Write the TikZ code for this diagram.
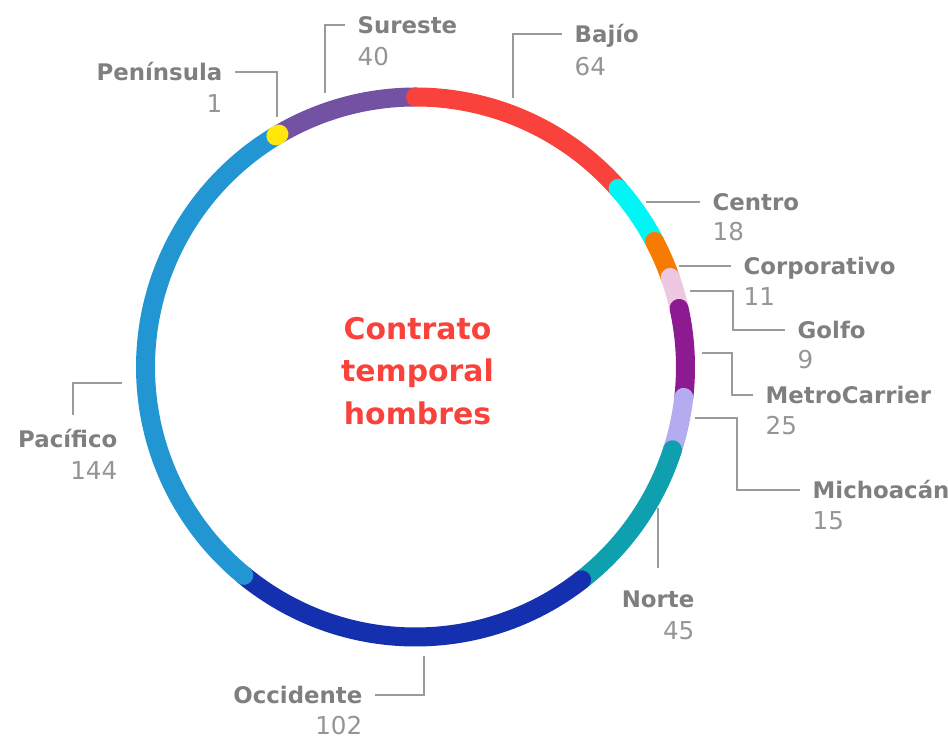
\documentclass[tikz,border=0pt]{standalone}
\usepackage{fontspec}
\setmainfont{DejaVu Sans}
\definecolor{sureste}{HTML}{7352A3}
\definecolor{bajio}{HTML}{F8423B}
\definecolor{centro}{HTML}{00F5F5}
\definecolor{corporativo}{HTML}{F57C00}
\definecolor{golfo}{HTML}{EEC8E0}
\definecolor{metro}{HTML}{8E1A91}
\definecolor{michoacan}{HTML}{B3ACF0}
\definecolor{norte}{HTML}{0EA0AE}
\definecolor{occidente}{HTML}{1430AE}
\definecolor{pacifico}{HTML}{2196D3}
\definecolor{peninsula}{HTML}{FFE80A}
\definecolor{namegray}{HTML}{7F7F7F}
\definecolor{numgray}{HTML}{959595}
\definecolor{leadgray}{HTML}{9A9A9A}
\newcommand{\ringrad}{2.7cm}
\begin{document}
\begin{tikzpicture}[
  seg/.style={line width=0.19cm,line cap=round},
  lead/.style={draw=leadgray,line width=0.45pt},
  region/.style={font=\fontsize{6.5}{8}\selectfont\bfseries,text=namegray,
    inner xsep=0.12cm,inner ysep=0pt,text height=0.165cm,text depth=0pt},
  total/.style={font=\fontsize{7}{8}\selectfont,text=numgray,
    inner sep=0pt,text height=0.18cm,text depth=0pt},
  title/.style={font=\fontsize{8.5}{12.1}\selectfont\bfseries,text=bajio,align=center}
]
\useasboundingbox (0,0) rectangle (9.48,7.42);
\coordinate (C) at (4.155,3.75);

% ring, clockwise from the top
\draw[seg,sureste] (C) ++(-239.62:\ringrad) arc[start angle=-239.62,end angle=-270,radius=\ringrad];
\draw[seg,bajio] (C) ++(90:\ringrad) arc[start angle=90,end angle=41.39,radius=\ringrad];
\draw[seg,centro] (C) ++(41.39:\ringrad) arc[start angle=41.39,end angle=27.72,radius=\ringrad];
\draw[seg,corporativo] (C) ++(27.72:\ringrad) arc[start angle=27.72,end angle=19.37,radius=\ringrad];
\draw[seg,golfo] (C) ++(19.37:\ringrad) arc[start angle=19.37,end angle=12.53,radius=\ringrad];
\draw[seg,metro] (C) ++(12.53:\ringrad) arc[start angle=12.53,end angle=-6.46,radius=\ringrad];
\draw[seg,michoacan] (C) ++(-6.46:\ringrad) arc[start angle=-6.46,end angle=-17.85,radius=\ringrad];
\draw[seg,norte] (C) ++(-17.85:\ringrad) arc[start angle=-17.85,end angle=-52.03,radius=\ringrad];
\draw[seg,occidente] (C) ++(-52.03:\ringrad) arc[start angle=-52.03,end angle=-129.49,radius=\ringrad];
\draw[seg,pacifico] (C) ++(-129.49:\ringrad) arc[start angle=-129.49,end angle=-238.86,radius=\ringrad];
\draw[seg,peninsula] (C) ++(-238.86:\ringrad) arc[start angle=-238.86,end angle=-239.62,radius=\ringrad];

\node[title] (title) at (4.175,3.71) {Contrato\\temporal\\hombres};

% labels
\node[region,anchor=west] (sur) at (3.45,7.17) {Sureste};
\node[total,anchor=west] (sur-n) at (3.57,6.85) {40};
\node[region,anchor=west] (baj) at (5.62,7.08) {Bajío};
\node[total,anchor=west] (baj-n) at (5.74,6.75) {64};
\node[region,anchor=west] (cen) at (7.00,5.40) {Centro};
\node[total,anchor=west] (cen-n) at (7.12,5.10) {18};
\node[region,anchor=west] (cor) at (7.31,4.76) {Corporativo};
\node[total,anchor=west] (cor-n) at (7.43,4.45) {11};
\node[region,anchor=west] (gol) at (7.85,4.12) {Golfo};
\node[total,anchor=west] (gol-n) at (7.97,3.82) {9};
\node[region,anchor=west] (met) at (7.53,3.47) {MetroCarrier};
\node[total,anchor=west] (met-n) at (7.65,3.16) {25};
\node[region,anchor=west] (mic) at (8.00,2.52) {Michoacán};
\node[total,anchor=west] (mic-n) at (8.12,2.22) {15};
\node[region,anchor=east] (nor) at (7.07,1.43) {Norte};
\node[total,anchor=east] (nor-n) at (6.95,1.12) {45};
\node[region,anchor=east] (occ) at (3.75,0.47) {Occidente};
\node[total,anchor=east] (occ-n) at (3.63,0.17) {102};
\node[region,anchor=east] (pac) at (1.30,3.03) {Pacífico};
\node[total,anchor=east] (pac-n) at (1.18,2.72) {144};
\node[region,anchor=east] (pen) at (2.35,6.70) {Península};
\node[total,anchor=east] (pen-n) at (2.23,6.38) {1};

% leader lines
\coordinate (sur-end) at (3.25,6.49);
\coordinate (baj-end) at (5.13,6.44);
\coordinate (cen-end) at (6.46,5.40);
\coordinate (cor-end) at (6.79,4.76);
\coordinate (gol-end) at (6.90,4.51);
\coordinate (met-end) at (7.02,3.89);
\coordinate (mic-end) at (6.95,3.24);
\coordinate (nor-end) at (6.58,2.34);
\coordinate (occ-end) at (4.24,0.86);
\coordinate (pac-end) at (1.22,3.59);
\coordinate (pen-end) at (2.77,6.25);

\draw[lead] (sur.west) -| (sur-end);
\draw[lead] (baj.west) -| (baj-end);
\draw[lead] (cen.west) -- (cen-end);
\draw[lead] (cor.west) -- (cor-end);
\draw[lead] (gol.west) -- ++(-0.52,0) |- (gol-end);
\draw[lead] (met.west) -- ++(-0.21,0) |- (met-end);
\draw[lead] (mic.west) -- ++(-0.63,0) |- (mic-end);
\draw[lead] (nor-end) -- ++(0,-0.60);
\draw[lead] (occ.east) -| (occ-end);
\draw[lead] (pac-end) -| ++(-0.49,-0.32);
\draw[lead] (pen.east) -| (pen-end);
\end{tikzpicture}
\end{document}
